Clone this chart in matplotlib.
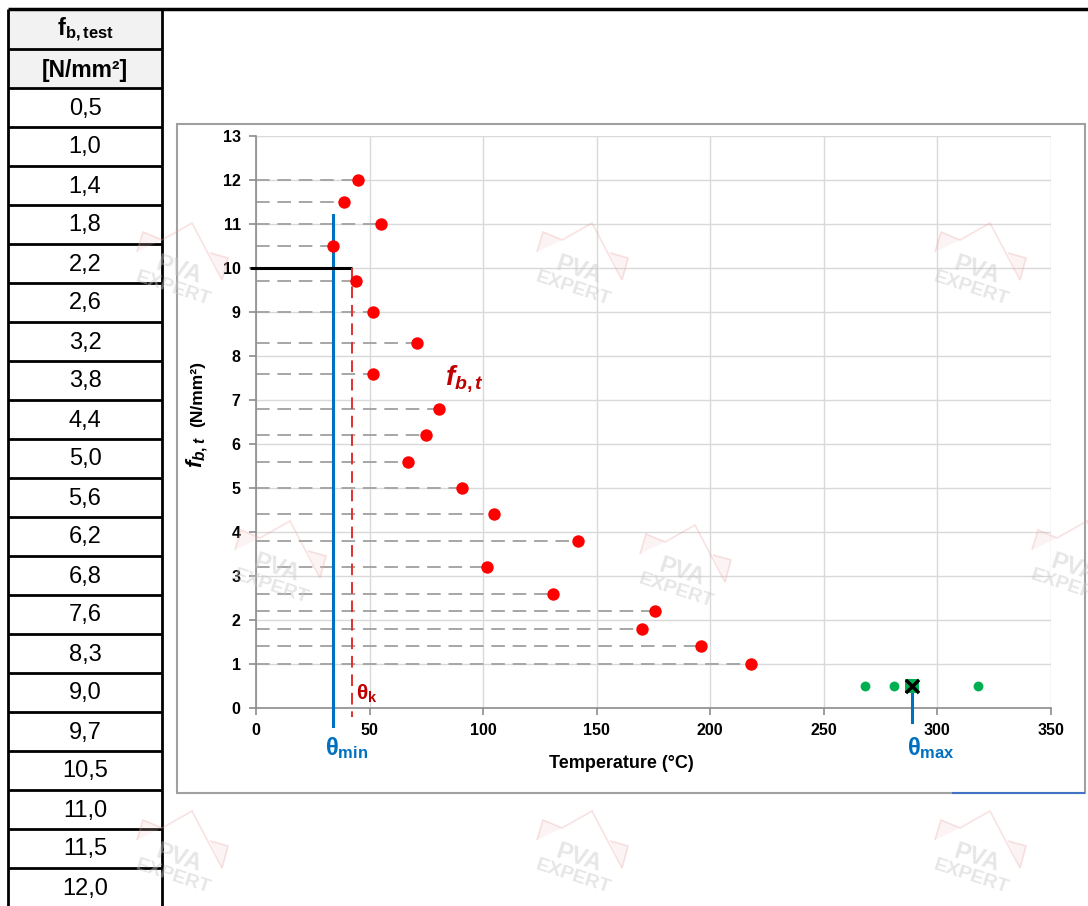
"""
f_b,t vs temperature chart with the f_b,test table on the left.
"""

import matplotlib
matplotlib.use('Agg')
import matplotlib.pyplot as plt
from matplotlib.lines import Line2D
from matplotlib.patches import Rectangle, Polygon

plt.rcParams['font.family'] = ['Liberation Sans', 'DejaVu Sans']
plt.rcParams['mathtext.fontset'] = 'custom'
plt.rcParams['mathtext.rm'] = 'Liberation Sans:bold'
plt.rcParams['mathtext.it'] = 'Liberation Sans:italic:bold'
plt.rcParams['mathtext.bf'] = 'Liberation Sans:bold'

# --- data ---------------------------------------------------------------
table_values = ['0,5', '1,0', '1,4', '1,8', '2,2', '2,6', '3,2', '3,8', '4,4', '5,0', '5,6',
                '6,2', '6,8', '7,6', '8,3', '9,0', '9,7', '10,5', '11,0', '11,5', '12,0']

test_strength = [1.0, 1.4, 1.8, 2.2, 2.6, 3.2, 3.8, 4.4, 5.0, 5.6, 6.2,
                 6.8, 7.6, 8.3, 9.0, 9.7, 10.5, 11.0, 11.5, 12.0]
test_temp = [218.0, 196.0, 170.0, 175.7, 130.8, 101.7, 141.8, 104.8, 90.7, 66.9, 74.9,
             80.6, 51.5, 70.9, 51.5, 44.0, 33.9, 55.0, 38.7, 44.9]

low_strength = 0.5
low_temp = [268.2, 281.0, 318.0]

theta_min = 33.9
theta_k = 42.3
theta_max = 289.0
f_ref = 10.0

COLORS = {'red': '#FF0000', 'dark_red': '#C00000', 'blue': '#0070C0',
          'green': '#00B050', 'dash': '#A6A6A6', 'grid': '#D9D9D9'}

W, H = 1088, 906
fig = plt.figure(figsize=(W / 100, H / 100), dpi=100)


def px(x, y):
    return x / W, 1 - y / H


def fig_line(x0, y0, x1, y1, color='black', lw=2, zorder=5):
    (a, b), (c, d) = px(x0, y0), px(x1, y1)
    fig.add_artist(Line2D([a, c], [b, d], color=color, lw=lw, zorder=zorder,
                          transform=fig.transFigure, solid_capstyle='butt'))


# --- table on the left --------------------------------------------------
for y0, y1 in [(10, 49), (49, 88)]:
    x0, y0f = px(8, y1)
    fig.add_artist(Rectangle((x0, y0f), 154 / W, (y1 - y0) / H, facecolor='#F2F2F2',
                             edgecolor='none', transform=fig.transFigure, zorder=1))

fig.text(*px(85, 30), r'f$_{\mathrm{b,test}}$', ha='center', va='center',
         fontsize=17, fontweight='bold')
fig.text(*px(85, 70), '[N/mm²]', ha='center', va='center', fontsize=16.5, fontweight='bold')

row_h = 39
for i, v in enumerate(table_values):
    yc = 88 + row_h * i + row_h / 2
    fig.text(*px(85, yc + 1), v, ha='center', va='center', fontsize=17)

fig_line(8, 9, 1088, 9, lw=2.5)
for k in range(23):
    yb = 49 + row_h * k
    if yb > 906:
        break
    fig_line(8, yb, 162, yb, lw=2)
fig_line(8, 9, 8, 906, lw=2)
fig_line(162, 9, 162, 906, lw=2)

# --- chart frame --------------------------------------------------------
fx, fy = px(177, 793)
fig.add_artist(Rectangle((fx, fy), (1085 - 177) / W, (793 - 124) / H, facecolor='none',
                         edgecolor='#A0A0A0', lw=1.5, transform=fig.transFigure, zorder=1))
fig_line(952, 793, 1085, 793, color='#4472C4', lw=1.5, zorder=2)

# --- scatter chart ------------------------------------------------------
ax = fig.add_axes([256 / W, 198 / H, 795 / W, 572 / H])
ax.set_xlim(0, 350)
ax.set_ylim(0, 13)
ax.set_xticks(range(0, 351, 50))
ax.set_yticks(range(0, 14))
ax.grid(True, color=COLORS['grid'], lw=1, zorder=0)
ax.set_axisbelow(True)
for s in ['top', 'right']:
    ax.spines[s].set_visible(False)
for s in ['left', 'bottom']:
    ax.spines[s].set_color('#8C8C8C')
    ax.spines[s].set_linewidth(1.2)
ax.tick_params(colors='#8C8C8C', length=5, width=1.2, labelcolor='black',
               labelsize=11.5, pad=6)
for lab in ax.get_xticklabels() + ax.get_yticklabels():
    lab.set_fontweight('bold')

for t, f in zip(test_temp, test_strength):
    ax.plot([0, t], [f, f], color=COLORS['dash'], lw=1.4, dashes=(7, 4), zorder=2)
ax.scatter(test_temp, test_strength, s=80, color=COLORS['red'], zorder=5, linewidths=0)
ax.scatter(low_temp, [low_strength] * len(low_temp), s=50, color=COLORS['green'],
           zorder=5, linewidths=0)
ax.scatter([theta_max], [low_strength], s=110, marker='s', color=COLORS['green'], zorder=5,
           linewidths=0)
ax.scatter([theta_max], [low_strength], s=90, marker='x', color='black', zorder=6,
           linewidths=2.5)

# reference lines
ax.plot([theta_min, theta_min], [-0.4, 11.2], color=COLORS['blue'], lw=2.2, zorder=4,
        clip_on=False)
ax.plot([-2.5, theta_k], [f_ref, f_ref], color='black', lw=2.2, zorder=4, clip_on=False,
        solid_capstyle='butt')
ax.plot([theta_k, theta_k], [f_ref, -0.2], color='#E03030', lw=1.4, dashes=(6, 3.5),
        zorder=4, clip_on=False)
ax.plot([theta_max, theta_max], [0.5, -0.32], color=COLORS['blue'], lw=2.2, zorder=4,
        clip_on=False)

ax.text(44.2, 0.33, r'θ$_{\mathrm{k}}$', color=COLORS['dark_red'], fontsize=15,
        fontweight='bold', ha='left', va='center')
ax.text(40, -0.92, r'θ$_{\mathrm{min}}$', color=COLORS['blue'], fontsize=17,
        fontweight='bold', ha='center', va='center', clip_on=False)
ax.text(297, -0.92, r'θ$_{\mathrm{max}}$', color=COLORS['blue'], fontsize=17,
        fontweight='bold', ha='center', va='center', clip_on=False)
ax.text(92, 7.5, r'$f_{b,t}$', color=COLORS['dark_red'], fontsize=20, ha='center',
        va='center')

# axis titles
fig.text(*px(621, 763), 'Temperature (°C)', fontsize=13, fontweight='bold',
         ha='center', va='center')
fig.text(*px(197, 452), r'$f_{b,t}$', fontsize=16, rotation=90, ha='center', va='center')
fig.text(*px(198, 394), '(N/mm²)', fontsize=12.5, fontweight='bold', rotation=90,
         ha='center', va='center')


# --- watermarks -----------------------------------------------------------
def watermark(cx, cy):
    roof = [(-40, -18), (-34, -38), (-15, -30), (15, -47), (45, 10), (51, -12), (33, -17)]
    pts = [px(cx + dx, cy + dy) for dx, dy in roof]
    fig.add_artist(Polygon(pts, closed=False, facecolor='none', edgecolor='#E8A0A0',
                           lw=1.2, alpha=0.3, transform=fig.transFigure, zorder=20))
    for tri in ([(-40, -18), (-34, -38), (-15, -30)], [(45, 10), (51, -12), (33, -17)]):
        fig.add_artist(Polygon([px(cx + dx, cy + dy) for dx, dy in tri], closed=True,
                               facecolor='#F4C8C8', edgecolor='none', alpha=0.2,
                               transform=fig.transFigure, zorder=20))
    fig.text(*px(cx + 2, cy), 'PVA', fontsize=17, fontweight='bold', color='#C8C8C8',
             alpha=0.45, rotation=-18, ha='center', va='center', zorder=20)
    fig.text(*px(cx - 4, cy + 19), 'EXPERT', fontsize=14, fontweight='bold', color='#C8C8C8',
             alpha=0.45, rotation=-18, ha='center', va='center', zorder=20)


for wx, wy in [(177, 270), (577, 270), (975, 270), (275, 568), (680, 572), (1072, 568),
               (177, 858), (577, 858), (975, 858)]:
    watermark(wx, wy)

fig.savefig('out.png', dpi=100)
